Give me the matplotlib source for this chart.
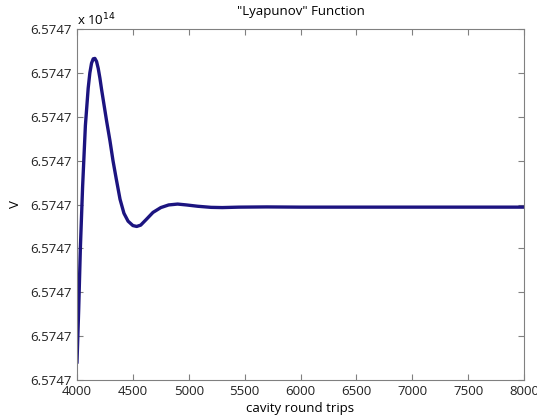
import matplotlib
matplotlib.use("Agg")
import matplotlib.pyplot as plt
from matplotlib.ticker import FuncFormatter

# round trip number and V offset (units of 1e7 above 6.5747e14)
trips = [4000, 4015, 4030, 4050, 4075, 4100, 4115, 4130, 4145, 4160, 4175, 4190,
         4205, 4220, 4240, 4265, 4295, 4322, 4350, 4385, 4420, 4457, 4500, 4534,
         4570, 4620, 4680, 4750, 4820, 4900, 4980, 5080, 5200, 5300, 5450, 5700,
         6000, 8000]
dv = [0.41, 1.6, 3.0, 4.4, 5.8, 6.65, 7.0, 7.22, 7.32, 7.33, 7.26, 7.1,
      6.88, 6.62, 6.3, 5.9, 5.45, 5.0, 4.6, 4.12, 3.8, 3.62, 3.52, 3.50,
      3.53, 3.66, 3.82, 3.93, 3.99, 4.01, 3.99, 3.96, 3.935, 3.93, 3.94, 3.945,
      3.94, 3.94]
V0 = 6.5747e14
unit = 1e7
V = [V0 + d * unit for d in dv]

plt.rcParams['font.family'] = ['Open Sans', 'DejaVu Sans']

fig = plt.figure(figsize=(5.37, 4.18), dpi=100)
ax = fig.add_axes([0.1434, 0.0909, 0.8324, 0.8397])
ax.plot(trips, V, color='#1c1480', lw=2.4, solid_joinstyle='round')

ax.set_xlim(4000, 8000)
ax.set_ylim(V0, V0 + 8 * unit)
ax.set_xticks(range(4000, 8001, 500))
ax.set_yticks([V0 + k * unit for k in range(9)])
ax.yaxis.set_major_formatter(FuncFormatter(lambda v, p: '%.4f' % (v / 1e14)))

for s in ax.spines.values():
    s.set_color('#808080')
ax.tick_params(direction='in', top=True, right=True, color='#808080',
               labelsize=9.5, labelcolor='#222222', length=4)

ax.set_title('"Lyapunov" Function', fontsize=9.5, pad=10)
ax.set_xlabel('cavity round trips', fontsize=9.5, labelpad=3)
ax.set_ylabel('V', fontsize=9.5, labelpad=6)
ax.text(0.0, 1.002, r'x 10$^{14}$', transform=ax.transAxes, fontsize=9.5,
        ha='left', va='bottom')

fig.savefig('out.png', dpi=100)
